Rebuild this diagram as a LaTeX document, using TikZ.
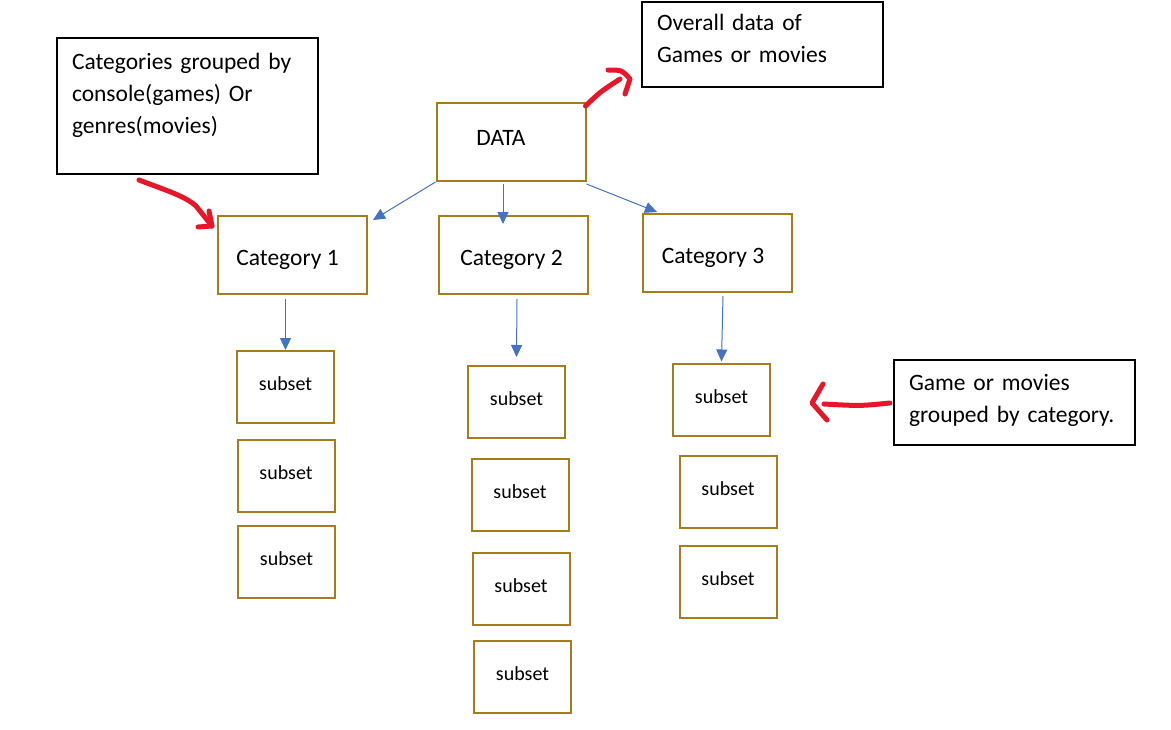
\documentclass[tikz,border=0pt]{standalone}
\usepackage{fontspec}
\setmainfont{Carlito}
\usetikzlibrary{arrows.meta}
\definecolor{boxbrown}{RGB}{166,124,28}
\definecolor{linkblue}{RGB}{68,114,196}
\definecolor{markred}{RGB}{232,22,42}

\begin{document}
\begin{tikzpicture}[x=1pt,y=-1pt,>={Triangle[length=12pt,width=11pt]},
    block/.style={draw=boxbrown,line width=2pt,minimum width=149pt,minimum height=78pt,text height=26pt,text depth=5pt,font=\fontsize{23.5}{32}\selectfont},
    subset/.style={draw=boxbrown,line width=2pt,minimum width=97pt,minimum height=72pt,text height=14pt,text depth=7pt,font=\fontsize{20}{24}\selectfont},
    note/.style={draw,line width=2pt,anchor=north west,inner xsep=15pt,align=left,font=\fontsize{23.5}{32}\selectfont},
    link/.style={->,draw=linkblue,line width=1pt},
    scribble/.style={draw=markred,line width=5pt,line cap=round,line join=round}]
      \useasboundingbox[fill=white] (0,0) rectangle (1171,729);
      \node[block,text height=15pt,text depth=8pt] (data) at (511,142) {DATA\kern20pt};
      \node[block] (cat1) at (292.5,255) {Category 1\kern10pt};
      \node[block] (cat2) at (513.5,255) {Category 2\kern4pt};
      \node[block] (cat3) at (717,253) {Category 3\kern8pt};
      \node[subset] (s11) at (285.5,387) {subset};
      \node[subset] (s12) at (286,476) {subset};
      \node[subset] (s13) at (286.5,562) {subset};
      \node[subset] (s21) at (516.5,402) {subset};
      \node[subset] (s22) at (520,495) {subset};
      \node[subset] (s23) at (521,589) {subset};
      \node[subset] (s24) at (522.5,676.5) {subset};
      \node[subset] (s31) at (721.5,399.5) {subset};
      \node[subset] (s32) at (728,492) {subset};
      \node[subset] (s33) at (728,582) {subset};
      \node[note,text width=231pt,minimum height=136pt] (notecat) at (56,37)
        {Categories grouped by\\console(games) Or\\genres(movies)\rule[-25.5pt]{0pt}{0pt}};
      \node[note,text width=211pt,minimum height=85pt] (noteall) at (641,1)
        {Overall data of\\Games or movies\rule[-13pt]{0pt}{0pt}};
      \node[note,text width=211pt,minimum height=85pt] (notegroup) at (893,359)
        {Game or movies\\grouped by category.\rule[-8pt]{0pt}{0pt}};
      \draw[link] (data.south west) -- ([shift={(5,5)}]cat1.north east);
      \draw[link] ([shift={(-8,2)}]data.south) -- ([shift={(-10.5,9)}]cat2.north);
      \draw[link] ([shift={(0,2)}]data.south east) -- ([shift={(-60,-1)}]cat3.north);
      \draw[link] ([shift={(-7,4)}]cat1.south) -- (s11.north);
      \draw[link] ([shift={(3.5,4)}]cat2.south) -- ([shift={(0,-8)}]s21.north);
      \draw[link] ([shift={(6,3)}]cat3.south) -- ([shift={(0,-1)}]s31.north);
      % hand drawn red marks
      \coordinate (tipA) at ([shift={(-5,11)}]cat1.north west);
      \coordinate (tipB) at ([shift={(-11,-9)}]noteall.south west);
      \coordinate (tipC) at ([shift={(41,3.5)}]s31.east);
      \draw[scribble] ([shift={(83,5)}]notecat.south west) .. controls (165,190) and (185,196) .. (196,206) -- (tipA);
      \draw[scribble] ([shift={(-3,-15)}]tipA) -- (tipA) -- ++(-14,1);
      \draw[scribble] ([shift={(-1,4)}]data.north east) .. controls (600,92) .. ([shift={(-10,0)}]tipB);
      \draw[scribble] ([shift={(-22,-9)}]tipB) .. controls ([shift={(-8,-9)}]tipB) .. (tipB) -- ++(-5,15);
      \draw[scribble] ([shift={(-3,0.5)}]notegroup.west) .. controls (860,406) .. ([shift={(12,1)}]tipC);
      \draw[scribble] ([shift={(11,-19)}]tipC) -- (tipC) -- ++(15,17);
    \end{tikzpicture}
\end{document}
